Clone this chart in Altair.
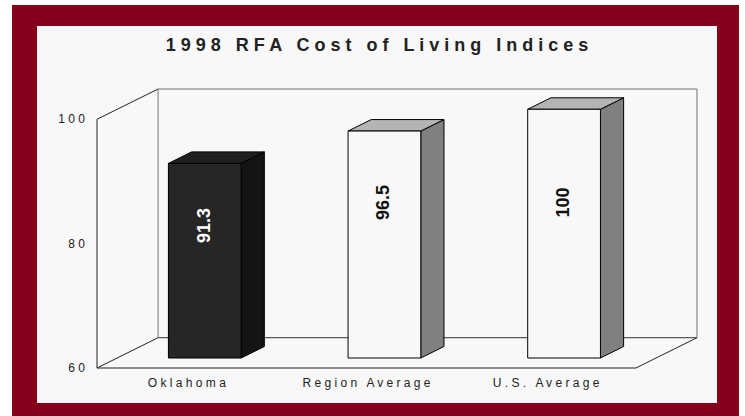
import altair as alt
import pandas as pd

# ---- data ----
categories = ["Oklahoma", "Region Average", "U.S. Average"]
values = [91.3, 96.5, 100]
y_ticks = [60, 80, 100]
x_ticks = [0, 1, 2, 3]
title_text = "1998 RFA Cost of Living Indices"

# ---- styles / geometry constants ----
FRONT = ["#262626", "#f8f8f8", "#f8f8f8"]
TOP = ["#1f1f1f", "#b4b4b4", "#b4b4b4"]
SIDE = ["#141414", "#808080", "#808080"]
LABEL_COL = ["#ffffff", "#111111", "#111111"]
RED = "#85001a"
PANEL = "#f8f8f8"
FONT = "Liberation Sans"

YMIN, YMAX = 60, 100
DU, DV = 0.34, 4.87          # depth of the 3D box (x units, value units)
OX, OY = 0.10, 1.606         # offset of bar front plane from front of box
BU, BV = 0.129, 1.85         # bar depth
HW = 0.2025                  # half width of bar front face
N = len(categories)

PAD_L, PAD_T, W, H = 97, 89, 600, 279


def spaced(s):
    return " \u00a0 ".join(" ".join(w) for w in s.split(" "))


xs = alt.Scale(domain=[0, N + DU], nice=False, zero=False)
ys = alt.Scale(domain=[YMIN, YMAX + DV], nice=False, zero=False)

# ---- derived tables ----
front_rows, top_rows, side_rows, lab_rows = [], [], [], []
for i, (c, v) in enumerate(zip(categories, values)):
    xl = i + 0.5 + OX - HW
    xr = i + 0.5 + OX + HW
    front_rows.append(dict(cat=c, x=xl, x2=xr, y=YMIN + OY, y2=v + OY, fill=FRONT[i]))
    top_rows += [
        dict(cat=c, y=v + OY, x=xl, x2=xr, fill=TOP[i]),
        dict(cat=c, y=v + OY + BV, x=xl + BU, x2=xr + BU, fill=TOP[i]),
    ]
    side_rows += [
        dict(cat=c, x=xr, y=v + OY, y2=YMIN + OY, fill=SIDE[i]),
        dict(cat=c, x=xr + BU, y=v + OY + BV, y2=YMIN + OY + BV, fill=SIDE[i]),
    ]
    lab_rows.append(dict(cat=c, x=i + 0.5 + OX, y=min(v - 10, 85) + OY,
                         text=f"{v:g}", col=LABEL_COL[i]))

front_df = pd.DataFrame(front_rows)
top_df = pd.DataFrame(top_rows)
side_df = pd.DataFrame(side_rows)
lab_df = pd.DataFrame(lab_rows)

# frame segments of the 3D box
seg = pd.DataFrame([
    dict(x=0, x2=0, y=YMIN, y2=YMAX, c="#222222"),
    dict(x=0, x2=DU, y=YMAX, y2=YMAX + DV, c="#222222"),
    dict(x=0, x2=DU, y=YMIN, y2=YMIN + DV, c="#222222"),
    dict(x=0, x2=N, y=YMIN, y2=YMIN, c="#222222"),
    dict(x=N, x2=N + DU, y=YMIN, y2=YMIN + DV, c="#222222"),
    dict(x=DU, x2=N + DU, y=YMAX + DV, y2=YMAX + DV, c="#707070"),
    dict(x=DU, x2=N + DU, y=YMIN + DV, y2=YMIN + DV, c="#333333"),
    dict(x=DU, x2=DU, y=YMIN + DV, y2=YMAX + DV, c="#707070"),
    dict(x=N + DU, x2=N + DU, y=YMIN + DV, y2=YMAX + DV, c="#707070"),
])

one = pd.DataFrame({"a": [0]})

red_bg = alt.Chart(one).mark_rect(color=RED).encode(
    x=alt.value(12 - PAD_L), x2=alt.value(739 - PAD_L),
    y=alt.value(5 - PAD_T), y2=alt.value(416 - PAD_T))
panel = alt.Chart(one).mark_rect(color=PANEL).encode(
    x=alt.value(37 - PAD_L), x2=alt.value(717 - PAD_L),
    y=alt.value(26 - PAD_T), y2=alt.value(403 - PAD_T))

frame = alt.Chart(seg).mark_rule(strokeWidth=1).encode(
    x=alt.X("x:Q", scale=xs, axis=alt.Axis(values=x_ticks, labels=False, domain=False,
                                            grid=False, tickSize=4, tickColor="#222222",
                                            title=None)),
    x2="x2:Q",
    y=alt.Y("y:Q", scale=ys, axis=alt.Axis(values=y_ticks, labels=False, domain=False,
                                            grid=False, tickSize=4, tickColor="#222222",
                                            title=None)),
    y2="y2:Q",
    stroke=alt.Stroke("c:N", scale=None),
)

sides = alt.Chart(side_df).mark_area(orient="vertical", stroke="#000000", strokeWidth=1).encode(
    x=alt.X("x:Q", scale=xs, axis=None),
    y=alt.Y("y:Q", scale=ys, axis=None),
    y2="y2:Q",
    detail="cat:N",
    fill=alt.Fill("fill:N", scale=None),
)

tops = alt.Chart(top_df).mark_area(orient="horizontal", stroke="#000000", strokeWidth=1).encode(
    y=alt.Y("y:Q", scale=ys, axis=None),
    x=alt.X("x:Q", scale=xs, axis=None),
    x2="x2:Q",
    detail="cat:N",
    fill=alt.Fill("fill:N", scale=None),
)

fronts = alt.Chart(front_df).mark_rect(stroke="#000000", strokeWidth=1).encode(
    x=alt.X("x:Q", scale=xs, axis=None),
    x2="x2:Q",
    y=alt.Y("y:Q", scale=ys, axis=None),
    y2="y2:Q",
    fill=alt.Fill("fill:N", scale=None),
)

vlabels = alt.Chart(lab_df).mark_text(angle=270, align="center", baseline="middle",
                                      font=FONT, fontSize=18, fontWeight="bold").encode(
    x=alt.X("x:Q", scale=xs, axis=None),
    y=alt.Y("y:Q", scale=ys, axis=None),
    text="text:N",
    fill=alt.Fill("col:N", scale=None),
)

ytl = pd.DataFrame({"v": y_ticks, "t": [spaced(str(t)) for t in y_ticks]})
ylabels = alt.Chart(ytl).mark_text(align="right", baseline="middle", dx=-12,
                                   font=FONT, fontSize=12, color="#222222").encode(
    x=alt.value(0),
    y=alt.Y("v:Q", scale=ys, axis=None),
    text="t:N",
)

xtl = pd.DataFrame({"i": [i + 0.5 for i in range(N)], "t": [spaced(c) for c in categories],
                    "y": [YMIN] * N})
xlabels = alt.Chart(xtl).mark_text(align="center", baseline="middle", dy=15,
                                   font=FONT, fontSize=12, color="#222222").encode(
    x=alt.X("i:Q", scale=xs, axis=None),
    y=alt.Y("y:Q", scale=ys, axis=None),
    text="t:N",
)

title = alt.Chart(pd.DataFrame({"t": [spaced(title_text)]})).mark_text(
    align="center", baseline="middle", font=FONT, fontSize=18, fontWeight="bold",
    color="#222222").encode(
    x=alt.value(377 - PAD_L), y=alt.value(46 - PAD_T), text="t:N")

chart = alt.layer(
    red_bg, panel, frame, sides, tops, fronts, vlabels, ylabels, xlabels, title
).properties(
    width=W, height=H,
    autosize=alt.AutoSizeParams(type="none"),
    padding={"left": PAD_L, "top": PAD_T, "right": 745 - PAD_L - W, "bottom": 416 - PAD_T - H},
    background="white",
).configure_view(stroke=None)

chart.save("out.html", embed_options={"renderer": "svg", "actions": False})
